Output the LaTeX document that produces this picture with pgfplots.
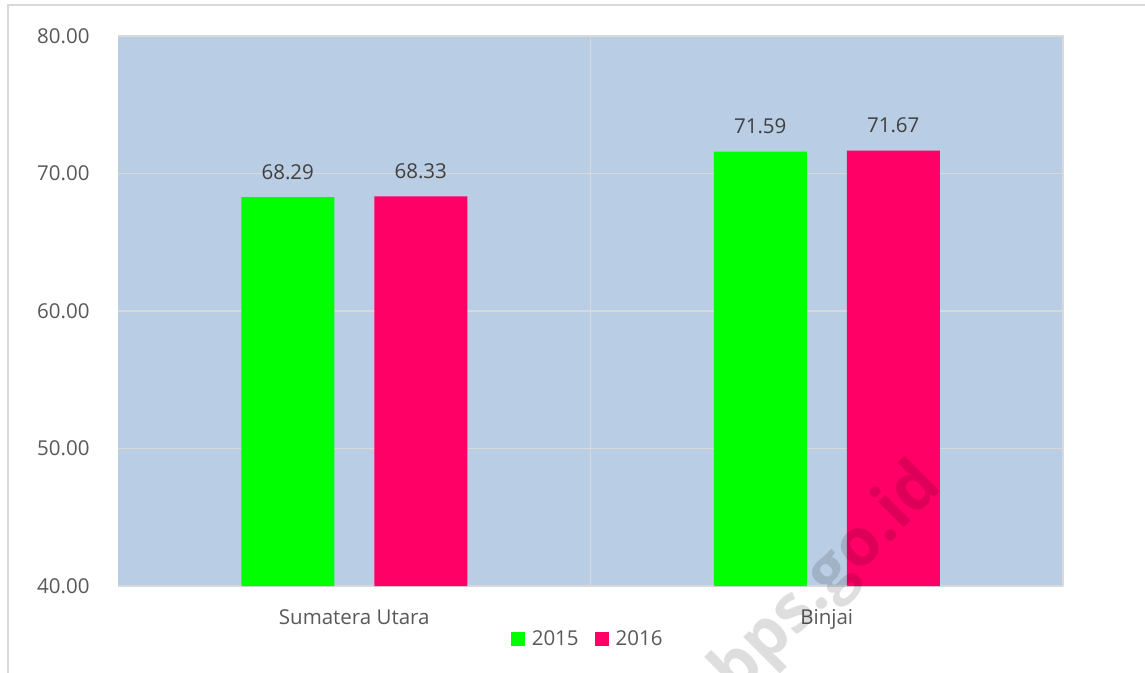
\documentclass[border=0pt]{standalone}
\usepackage{pgfplots}
\pgfplotsset{compat=1.18}
\usepackage{fontspec}
\setmainfont{Open Sans}
\newfontfamily\wmfont{Open Sans}
\definecolor{bgblue}{RGB}{185,205,229}
\definecolor{gridc}{RGB}{217,217,217}
\definecolor{gr}{RGB}{0,255,0}
\definecolor{pk}{RGB}{255,0,102}
\definecolor{tickc}{RGB}{89,89,89}
\definecolor{labc}{RGB}{64,64,64}
\begin{document}
\begin{tikzpicture}[x=1pt,y=1pt]
\useasboundingbox (0,0) rectangle (1145,672);
\fill[white] (0,0) rectangle (1145,672);
\draw[gridc,line width=2pt] (8,-10) -- (8,667) -- (1160,667);
\begin{axis}[
  at={(118pt,86pt)}, anchor=south west,
  scale only axis, width=945pt, height=550pt,
  ybar=40pt, bar width=93pt,
  xmin=-0.5, xmax=1.5, ymin=40, ymax=80,
  xtick={0,1}, xticklabels={Sumatera Utara,Binjai},
  extra x ticks={0.5}, extra x tick labels={},
  extra x tick style={grid=major, major grid style={gridc,line width=1.5pt}},
  ytick={40,50,60,70,80},
  ymajorgrids, major grid style={gridc,line width=1.2pt},
  yticklabel style={/pgf/number format/fixed,/pgf/number format/fixed zerofill,/pgf/number format/precision=2},
  /pgf/number format/assume math mode=true,
  tick style={draw=none},
  axis background/.style={fill=bgblue},
  axis line style={gridc,line width=1.5pt},
  axis y line*=left, axis x line*=bottom,
  separate axis lines,
  y axis line style={draw=none},
  ticklabel style={font=\fontsize{20.5}{25}\selectfont, text=tickc},
  yticklabel style={xshift=-25pt},
  xticklabel style={yshift=-16pt},
  nodes near coords,
  nodes near coords style={/pgf/number format/fixed,/pgf/number format/fixed zerofill,/pgf/number format/precision=2},
  every node near coord/.append style={font=\fontsize{20.5}{25}\selectfont, text=labc, anchor=base, inner sep=0pt, yshift=18pt},
  legend columns=2,
  legend style={draw=none, fill=none, at={(0.497,-0.096)}, anchor=center,
    font=\fontsize{20.5}{25}\selectfont, text=tickc,
    /tikz/every odd column/.append style={column sep=5pt},
    /tikz/every even column/.append style={column sep=14pt}},
  legend image code/.code={\fill[#1,draw=none] (0pt,-7pt) rectangle (14pt,7pt);},
  clip=false,
]
\addplot[fill=gr, draw=none] coordinates {(0,68.29) (1,71.59)};
\addplot[fill=pk, draw=none] coordinates {(0,68.33) (1,71.67)};
\legend{2015,2016}
\end{axis}
\draw[gridc,line width=1.5pt] (1063,86) -- (1063,636) -- (118,636);
\node[rotate=45, text=black, opacity=0.13, font=\wmfont\bfseries\fontsize{66}{70}\selectfont] at (828,92) {bps.go.id};
\end{tikzpicture}
\end{document}
